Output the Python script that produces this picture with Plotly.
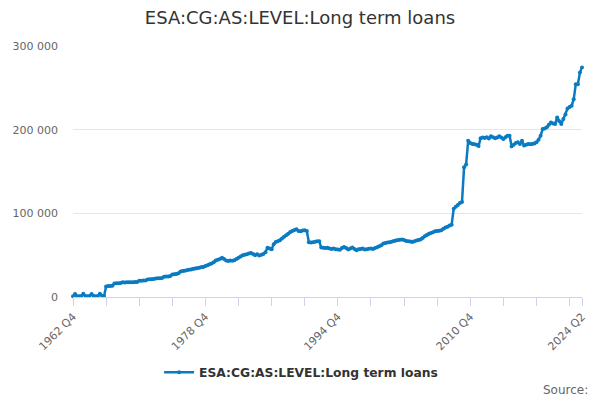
import plotly.graph_objects as go

start_year = 1962
start_q = 4

values = [
    1000, 3500, 1000, 800, 1200, 3800, 1200, 1000, 1300, 3500,
    1200, 1000, 1200, 4000, 1500, 1200, 12500, 13000, 13200, 13500,
    16000, 16300, 16500, 16800, 17500, 17400, 17600, 17500, 17700, 17600,
    17800, 17900, 19400, 19300, 19600, 19800, 21000, 21200, 21100, 21500,
    22200, 22400, 22300, 22800, 24200, 24400, 24600, 25000, 27000, 27200,
    27500, 28500, 30500, 31000, 31500, 32000, 32500, 33000, 33500, 34000,
    34500, 35000, 35500, 36000, 37000, 38000, 39000, 40000, 41500, 43500,
    44500, 45500, 46800, 45500, 43500, 43000, 43500, 43200, 44000, 45500,
    47000, 48500, 50000, 50500, 51000, 52000, 52700, 51500, 50000, 51200,
    49500, 50500, 51500, 53500, 59000, 58000, 57000, 63000, 65800, 66500,
    67900, 70000, 72000, 73800, 75500, 77700, 79000, 80000, 81000, 78900,
    78500, 79500, 79800, 78900, 65500, 65000, 65500, 66000, 66700, 66500,
    59100, 59000, 58500, 58800, 58000, 57500, 58000, 57000, 56800, 56500,
    58500, 59900, 58500, 56800, 58000, 59200, 57500, 56000, 57000, 57500,
    58000, 56800, 57200, 57800, 58000, 57500, 58500, 59500, 60700, 62000,
    63900, 64500, 65000, 65500, 66000, 66800, 67500, 68000, 68300, 68700,
    68000, 67000, 66500, 66200, 65800, 66500, 67500, 68200, 68700, 70500,
    72600, 74000, 75500, 76500, 77500, 78500, 78900, 79300, 79800, 81500,
    83000, 84000, 85500, 86500, 105600, 108000, 110000, 112500, 113500, 155000,
    158500, 186900, 184000, 183000, 182500, 182000, 180500, 189700, 190500, 190000,
    190900, 189500, 192000, 191000, 189700, 190500, 192000, 190500, 188900, 191000,
    192800, 192800, 180200, 182000, 184200, 185000, 183000, 186900, 181000, 182000,
    183000, 182500, 183000, 183500, 184900, 188000, 192800, 200800, 201500, 202800,
    206000, 208700, 207500, 206800, 214600, 210000, 206800, 212700, 218000, 225300,
    227000, 228600, 236500, 254400, 254400, 268200, 274200,
]

series_name = "ESA:CG:AS:LEVEL:Long term loans"
title_text = "ESA:CG:AS:LEVEL:Long term loans"

# quarter labels
labels = []
y, q = start_year, start_q
for _ in values:
    labels.append(f"{y} Q{q}")
    q += 1
    if q > 4:
        q = 1
        y += 1

idx = list(range(len(values)))
n = len(values)
tick_idx = list(range(0, n, 16)) + [n - 1]
label_idx = {0, 64, 128, 192, n - 1}
tick_text = [labels[i] if i in label_idx else "" for i in tick_idx]

y_ticks = [0, 100000, 200000, 300000]
y_ticktext = ["0", "100 000", "200 000", "300 000"]

color = "#0a7bc2"
font_family = "DejaVu Sans, Verdana, sans-serif"

fig = go.Figure()
fig.add_trace(go.Scatter(
    x=idx, y=values, mode="lines+markers", name=series_name,
    line=dict(color=color, width=2.5),
    marker=dict(color=color, size=4),
    text=labels, hovertemplate="%{text}: %{y}<extra></extra>",
    cliponaxis=False,
))

fig.update_layout(
    width=600, height=400,
    paper_bgcolor="white", plot_bgcolor="white",
    margin=dict(l=71, r=18, t=46, b=103),
    font=dict(family=font_family, color="#666666", size=11),
    title=dict(text=title_text, x=0.5, xanchor="center", y=0.955, yanchor="middle",
               font=dict(size=18, color="#333333", family=font_family)),
    showlegend=True,
    legend=dict(orientation="h", x=(300 - 71) / 511, xanchor="center", y=-0.30, yanchor="middle",
                font=dict(size=12.3, color="#333333", family=font_family, weight="bold"),
                itemwidth=30),
    xaxis=dict(
        range=[0, n - 1], tickmode="array", tickvals=tick_idx, ticktext=tick_text,
        tickangle=-45, showgrid=False, zeroline=False,
        showline=True, linecolor="#ccd6eb", linewidth=1,
        ticks="outside", ticklen=8, tickcolor="#ccd6eb",
        tickfont=dict(size=11, color="#666666"),
    ),
    yaxis=dict(
        range=[0, 300000], tickmode="array", tickvals=y_ticks, ticktext=y_ticktext,
        showgrid=True, gridcolor="#e6e6e6", gridwidth=1, zeroline=False,
        showline=False, ticks="", ticklabelstandoff=14,
        tickfont=dict(size=11, color="#666666"),
    ),
    annotations=[dict(text="Source:", xref="paper", yref="paper", x=1.0 + 8 / 511,
                      y=-(390 - 297) / 251, xanchor="right", yanchor="middle",
                      showarrow=False, font=dict(size=12, color="#666666"))],
)

fig.write_html("out.html", config={"displayModeBar": False},
               post_script="document.body.style.margin='0';document.body.style.overflow='hidden';")
